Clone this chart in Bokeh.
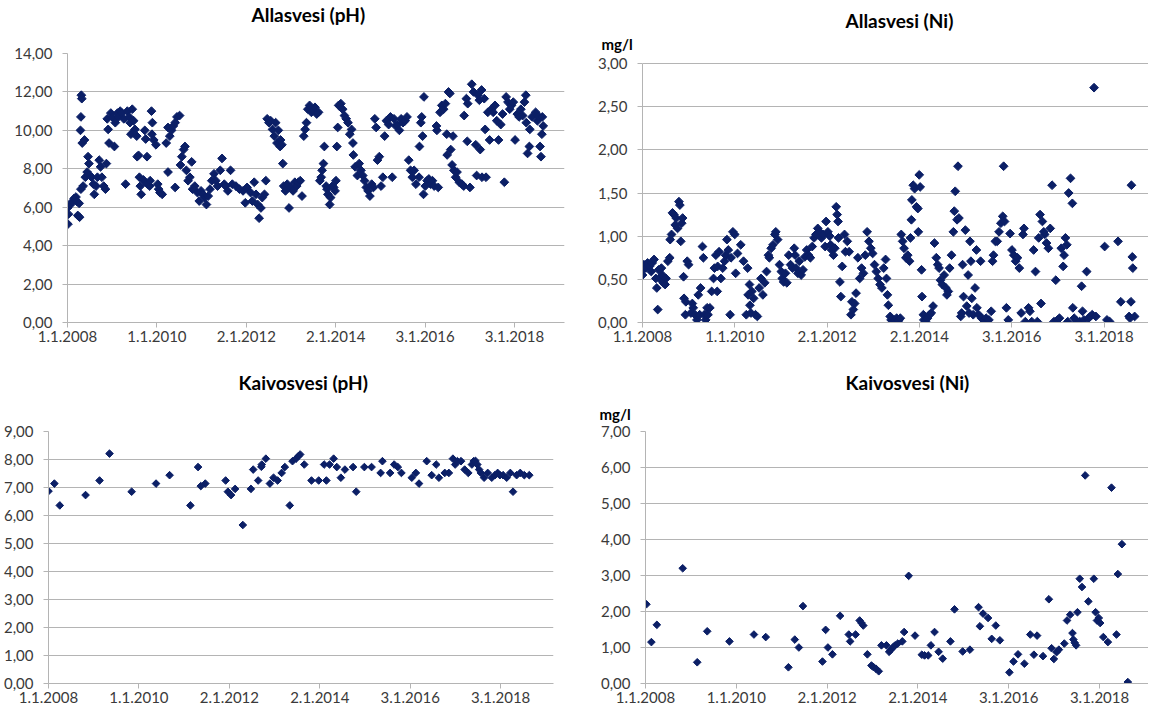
import numpy as np
import pandas as pd
from bokeh.plotting import figure
from bokeh.layouts import column, row
from bokeh.models import FixedTicker, CustomJSTickFormatter, Range1d, Title
from bokeh.embed import file_html
from bokeh.resources import INLINE

# ---------------- axis tick dates / labels ----------------
tick_dates = ["2008-01-01", "2010-01-01", "2012-01-02", "2014-01-02", "2016-01-03", "2018-01-03"]
tick_labels = ["1.1.2008", "1.1.2010", "2.1.2012", "2.1.2014", "3.1.2016", "3.1.2018"]

# ---------------- Allasvesi (pH) : sampling time (decimal year) and value ----------------
allas_ph_t = [
    2008.00, 2008.02, 2008.01, 2008.07, 2008.11, 2008.15, 2008.19, 2008.21, 2008.23, 2008.27,
    2008.26, 2008.30, 2008.31, 2008.32, 2008.30, 2008.29, 2008.33, 2008.38, 2008.35, 2008.40,
    2008.44, 2008.46, 2008.48, 2008.50, 2008.54, 2008.58, 2008.60, 2008.64, 2008.67, 2008.71,
    2008.74, 2008.77, 2008.81, 2008.85, 2008.87, 2008.89, 2008.91, 2008.93, 2008.97, 2009.01,
    2009.05, 2009.07, 2009.12, 2009.14, 2009.18, 2009.22, 2009.26, 2009.30, 2009.34, 2009.38,
    2009.40, 2009.42, 2009.45, 2009.48, 2009.51, 2009.55, 2009.56, 2009.59, 2009.61, 2009.63,
    2009.65, 2009.70, 2009.73, 2009.75, 2009.78, 2009.79, 2009.84, 2009.85, 2009.88, 2009.89,
    2009.90, 2009.93, 2009.98, 2010.02, 2010.04, 2010.07, 2010.12, 2010.25, 2010.21, 2010.25,
    2010.29, 2010.33, 2010.37, 2010.41, 2010.45, 2010.51, 2010.41, 2010.53, 2010.56, 2010.60,
    2010.63, 2010.66, 2010.70, 2010.74, 2010.78, 2010.80, 2010.85, 2010.91, 2010.95, 2010.99,
    2011.03, 2011.07, 2011.11, 2011.15, 2011.19, 2011.23, 2011.28, 2011.32, 2011.36, 2011.42,
    2011.46, 2011.51, 2011.54, 2011.59, 2011.65, 2011.69, 2011.77, 2011.85, 2011.93, 2011.98,
    2012.02, 2012.10, 2012.14, 2012.18, 2012.22, 2012.26, 2012.29, 2012.33, 2012.36, 2012.41,
    2012.44, 2012.47, 2012.51, 2012.55, 2012.59, 2012.63, 2012.66, 2012.69, 2012.72, 2012.76,
    2012.77, 2012.80, 2012.82, 2012.84, 2012.88, 2012.92, 2012.96, 2013.00, 2013.05, 2013.09,
    2013.13, 2013.17, 2013.21, 2013.25, 2013.29, 2013.32, 2013.35, 2013.38, 2013.42, 2013.46,
    2013.50, 2013.54, 2013.58, 2013.62, 2013.65, 2013.68, 2013.70, 2013.73, 2013.75, 2013.79,
    2013.81, 2013.83, 2013.87, 2013.89, 2013.93, 2013.96, 2013.99, 2014.01, 2014.03, 2014.05,
    2014.07, 2014.12, 2014.16, 2014.20, 2014.24, 2014.28, 2014.32, 2014.36, 2014.39, 2014.40,
    2014.44, 2014.49, 2014.53, 2014.57, 2014.61, 2014.65, 2014.69, 2014.73, 2014.77, 2014.81,
    2014.85, 2014.88, 2014.91, 2014.94, 2014.98, 2015.02, 2015.06, 2015.10, 2015.14, 2015.19,
    2015.23, 2015.27, 2015.31, 2015.35, 2015.39, 2015.43, 2015.47, 2015.51, 2015.56, 2015.60,
    2015.64, 2015.68, 2015.72, 2015.76, 2015.80, 2015.87, 2015.88, 2015.91, 2015.93, 2015.95,
    2015.98, 2015.97, 2016.01, 2016.05, 2016.09, 2016.13, 2016.17, 2016.21, 2016.26, 2016.27,
    2016.30, 2016.34, 2016.38, 2016.42, 2016.46, 2016.49, 2016.50, 2016.53, 2016.56, 2016.58,
    2016.61, 2016.63, 2016.65, 2016.69, 2016.72, 2016.77, 2016.83, 2016.87, 2016.88, 2016.93,
    2016.95, 2016.96, 2017.01, 2017.05, 2017.09, 2017.14, 2017.16, 2017.19, 2017.22, 2017.24,
    2017.27, 2017.28, 2017.33, 2017.35, 2017.37, 2017.41, 2017.45, 2017.49, 2017.53, 2017.57,
    2017.61, 2017.65, 2017.70, 2017.74, 2017.78, 2017.82, 2017.86, 2017.90, 2017.94, 2017.98,
    2018.02, 2018.07, 2018.11, 2018.15, 2018.19, 2018.23, 2018.26, 2018.27, 2018.30, 2018.34,
    2018.35, 2018.40, 2018.48, 2018.52, 2018.56, 2018.58, 2018.60, 2018.62, 2018.63, 2018.65,
]
allas_ph_v = [
    5.96, 5.64, 5.12, 6.14, 6.30, 6.46, 6.53, 6.30, 5.57, 5.48,
    6.20, 6.94, 11.83, 11.65, 10.70, 10.00, 9.34, 9.50, 7.10, 7.56,
    7.83, 8.63, 8.27, 7.65, 7.56, 7.20, 6.67, 7.10, 7.56, 8.45,
    8.10, 7.56, 7.10, 6.94, 8.27, 10.60, 10.05, 9.34, 10.90, 10.68,
    9.16, 10.40, 10.90, 10.70, 11.00, 10.90, 10.60, 7.20, 11.00, 10.70,
    10.40, 9.80, 11.10, 10.50, 10.05, 9.70, 8.63, 8.70, 7.56, 7.10,
    6.67, 7.42, 10.00, 9.55, 8.63, 7.20, 7.10, 7.38, 11.00, 9.80,
    10.40, 9.50, 9.25, 7.20, 6.94, 6.76, 6.67, 7.83, 9.34, 10.15,
    9.70, 10.00, 10.23, 10.40, 10.70, 10.77, 7.03, 8.20, 8.63, 9.00,
    9.16, 7.92, 7.38, 7.56, 8.36, 6.94, 7.10, 6.76, 6.32, 6.85,
    6.67, 6.50, 6.14, 6.58, 6.94, 7.38, 7.74, 7.38, 7.10, 7.92,
    8.54, 7.20, 7.10, 6.85, 7.92, 7.20, 7.10, 6.94, 6.85, 6.23,
    7.03, 6.76, 6.32, 7.30, 6.67, 6.14, 5.43, 5.96, 6.50, 6.67,
    7.38, 10.60, 10.40, 10.50, 10.05, 9.70, 10.40, 9.34, 10.00, 9.16,
    9.50, 9.25, 8.27, 7.10, 6.85, 7.20, 5.96, 7.03, 6.85, 7.30,
    7.10, 7.30, 7.38, 6.58, 9.70, 10.05, 10.40, 11.10, 11.30, 10.94,
    11.03, 11.20, 10.85, 10.94, 7.38, 7.56, 7.92, 8.27, 9.16, 7.10,
    6.94, 6.67, 6.14, 6.50, 7.10, 7.03, 6.85, 7.38, 9.16, 10.15,
    11.30, 11.39, 11.10, 10.77, 10.60, 10.40, 9.80, 10.05, 9.34, 8.72,
    8.10, 7.65, 8.27, 7.92, 7.65, 7.38, 7.03, 6.85, 6.58, 7.20,
    7.03, 10.60, 10.15, 8.45, 8.63, 7.10, 7.56, 9.70, 10.50, 10.30,
    10.70, 7.56, 10.60, 10.23, 10.30, 10.00, 10.60, 10.40, 10.50, 10.70,
    8.45, 7.92, 7.56, 7.92, 7.20, 7.56, 9.16, 10.40, 10.70, 9.70,
    11.74, 6.67, 7.10, 7.38, 7.47, 7.20, 7.38, 7.10, 10.23, 10.00,
    7.03, 10.94, 11.30, 11.10, 11.39, 9.80, 8.72, 12.00, 11.92, 9.00,
    8.20, 9.70, 7.92, 7.56, 7.83, 7.30, 7.20, 7.10, 10.77, 11.65,
    9.43, 11.39, 7.03, 12.40, 12.00, 9.25, 7.65, 11.83, 11.57, 9.00,
    12.10, 7.56, 11.65, 10.05, 7.56, 10.94, 9.50, 11.10, 10.94, 11.30,
    10.50, 9.50, 10.30, 10.85, 7.30, 11.74, 11.47, 11.10, 11.30, 11.47,
    9.50, 10.85, 10.70, 11.10, 10.77, 11.47, 11.83, 10.40, 8.80, 9.16,
    10.05, 10.70, 10.94, 10.50, 10.70, 9.16, 8.63, 9.80, 10.70, 10.23,
]

# ---------------- Allasvesi (Ni), mg/l ----------------
allas_ni_t = [
    2008.00, 2008.00, 2008.03, 2008.07, 2008.11, 2008.15, 2008.19, 2008.21, 2008.25, 2008.29,
    2008.31, 2008.33, 2008.35, 2008.37, 2008.41, 2008.43, 2008.45, 2008.49, 2008.51, 2008.55,
    2008.59, 2008.60, 2008.63, 2008.65, 2008.68, 2008.71, 2008.73, 2008.76, 2008.79, 2008.81,
    2008.83, 2008.85, 2008.87, 2008.89, 2008.90, 2008.93, 2008.94, 2008.97, 2009.00, 2009.05,
    2009.08, 2009.10, 2009.14, 2009.18, 2009.21, 2009.24, 2009.26, 2009.30, 2009.32, 2009.34,
    2009.37, 2009.40, 2009.42, 2009.46, 2009.50, 2009.54, 2009.56, 2009.59, 2009.62, 2009.63,
    2009.66, 2009.70, 2009.74, 2009.78, 2009.80, 2009.83, 2009.86, 2009.90, 2009.92, 2009.96,
    2010.00, 2010.02, 2010.06, 2010.13, 2010.19, 2010.25, 2010.28, 2010.29, 2010.32, 2010.33,
    2010.35, 2010.37, 2010.41, 2010.45, 2010.49, 2010.53, 2010.57, 2010.61, 2010.65, 2010.69,
    2010.73, 2010.75, 2010.79, 2010.83, 2010.87, 2010.89, 2010.93, 2010.97, 2011.01, 2011.03,
    2011.06, 2011.10, 2011.13, 2011.17, 2011.21, 2011.25, 2011.29, 2011.31, 2011.33, 2011.37,
    2011.40, 2011.44, 2011.48, 2011.52, 2011.56, 2011.60, 2011.64, 2011.68, 2011.72, 2011.76,
    2011.80, 2011.84, 2011.88, 2011.92, 2011.96, 2011.98, 2012.02, 2012.06, 2012.08, 2012.10,
    2012.14, 2012.17, 2012.20, 2012.22, 2012.24, 2012.25, 2012.28, 2012.30, 2012.33, 2012.38,
    2012.40, 2012.44, 2012.48, 2012.52, 2012.54, 2012.57, 2012.60, 2012.63, 2012.67, 2012.71,
    2012.75, 2012.79, 2012.83, 2012.87, 2012.91, 2012.95, 2012.99, 2013.03, 2013.07, 2013.11,
    2013.15, 2013.19, 2013.23, 2013.27, 2013.29, 2013.31, 2013.33, 2013.37, 2013.39, 2013.43,
    2013.47, 2013.51, 2013.55, 2013.59, 2013.61, 2013.64, 2013.67, 2013.71, 2013.75, 2013.79,
    2013.81, 2013.83, 2013.84, 2013.87, 2013.90, 2013.94, 2013.97, 2013.98, 2014.00, 2014.02,
    2014.05, 2014.06, 2014.09, 2014.10, 2014.14, 2014.18, 2014.22, 2014.26, 2014.30, 2014.33,
    2014.37, 2014.40, 2014.43, 2014.46, 2014.50, 2014.54, 2014.58, 2014.60, 2014.63, 2014.66,
    2014.70, 2014.74, 2014.76, 2014.78, 2014.82, 2014.84, 2014.86, 2014.90, 2014.92, 2014.94,
    2014.96, 2015.00, 2015.03, 2015.06, 2015.08, 2015.10, 2015.12, 2015.14, 2015.17, 2015.21,
    2015.24, 2015.25, 2015.29, 2015.33, 2015.35, 2015.40, 2015.45, 2015.51, 2015.56, 2015.59,
    2015.61, 2015.65, 2015.69, 2015.73, 2015.77, 2015.81, 2015.83, 2015.85, 2015.89, 2015.93,
    2015.97, 2016.01, 2016.05, 2016.09, 2016.13, 2016.17, 2016.21, 2016.25, 2016.27, 2016.30,
    2016.37, 2016.40, 2016.44, 2016.48, 2016.52, 2016.56, 2016.59, 2016.62, 2016.64, 2016.67,
    2016.70, 2016.72, 2016.76, 2016.80, 2016.84, 2016.88, 2016.92, 2016.96, 2017.00, 2017.04,
    2017.08, 2017.12, 2017.14, 2017.17, 2017.20, 2017.22, 2017.24, 2017.28, 2017.32, 2017.33,
    2017.36, 2017.41, 2017.48, 2017.52, 2017.54, 2017.57, 2017.63, 2017.67, 2017.71, 2017.75,
    2017.79, 2017.83, 2018.02, 2018.07, 2018.13, 2018.31, 2018.37, 2018.55, 2018.57, 2018.59,
    2018.60, 2018.62, 2018.63, 2018.67,
]
allas_ni_v = [
    0.55, 0.61, 0.67, 0.63, 0.69, 0.65, 0.59, 0.69, 0.73, 0.51,
    0.40, 0.15, 0.61, 0.51, 0.63, 0.55, 0.46, 0.44, 0.51, 0.71,
    0.75, 0.96, 1.02, 1.27, 1.25, 1.13, 1.21, 1.09, 1.40, 1.36,
    0.94, 1.15, 1.21, 0.53, 0.28, 0.09, 0.24, 0.71, 0.67, 0.11,
    0.22, 0.17, 0.09, 0.03, 0.32, 0.09, 0.40, 0.88, 0.75, 0.09,
    0.03, 0.17, 0.09, 0.17, 0.36, 0.51, 0.63, 0.78, 0.36, 0.65,
    0.82, 0.51, 0.63, 0.71, 0.78, 0.96, 0.84, 0.09, 0.75, 1.05,
    1.02, 0.57, 0.80, 0.90, 0.71, 0.09, 0.63, 0.32, 0.44, 0.20,
    0.11, 0.36, 0.28, 0.09, 0.07, 0.40, 0.51, 0.32, 0.46, 0.59,
    0.78, 0.75, 0.86, 0.90, 1.02, 1.05, 0.96, 0.67, 0.59, 0.51,
    0.47, 0.57, 0.46, 0.78, 0.67, 0.63, 0.86, 0.78, 0.63, 0.57,
    0.71, 0.55, 0.61, 0.76, 0.84, 0.78, 0.75, 0.88, 0.98, 1.02,
    1.09, 1.05, 0.98, 1.02, 0.88, 1.17, 1.05, 1.00, 0.90, 0.84,
    0.78, 0.86, 1.34, 1.25, 1.17, 0.98, 0.47, 0.30, 0.65, 1.02,
    0.82, 0.94, 0.82, 0.09, 0.24, 0.15, 0.22, 0.34, 0.75, 0.51,
    0.63, 0.57, 0.78, 1.05, 0.94, 0.86, 0.80, 0.67, 0.59, 0.51,
    0.44, 0.40, 0.63, 0.73, 0.51, 0.32, 0.20, 0.07, 0.03, 0.02,
    0.03, 0.05, 0.02, 0.05, 1.02, 0.94, 0.86, 0.75, 0.78, 0.71,
    0.98, 1.19, 1.42, 1.59, 1.55, 1.34, 1.32, 1.05, 1.71, 1.57,
    0.61, 0.30, 0.09, 0.03, 0.01, 0.05, 0.09, 0.11, 0.19, 0.92,
    0.75, 0.67, 0.63, 0.49, 0.44, 0.55, 0.40, 0.32, 0.36, 0.63,
    0.78, 1.05, 1.29, 1.52, 1.19, 1.81, 1.21, 0.07, 0.11, 0.67,
    0.30, 1.07, 0.19, 0.55, 0.11, 0.94, 0.71, 0.28, 0.09, 0.40,
    0.84, 0.17, 0.09, 0.71, 0.05, 0.03, 0.05, 0.03, 0.13, 0.71,
    0.78, 0.94, 0.94, 1.05, 1.15, 1.23, 1.81, 1.17, 0.17, 0.03,
    1.03, 0.84, 0.78, 0.71, 0.75, 0.63, 0.11, 1.02, 1.09, 0.01,
    0.17, 0.13, 0.01, 0.84, 0.59, 0.01, 0.98, 1.25, 0.22, 1.17,
    1.05, 1.02, 0.92, 0.86, 1.09, 1.59, 0.01, 0.49, 0.03, 0.05,
    0.86, 0.65, 0.78, 0.98, 0.90, 0.01, 1.50, 1.67, 1.38, 0.17,
    0.05, 0.02, 0.01, 0.42, 0.13, 0.03, 0.59, 0.05, 0.07, 0.09,
    2.72, 0.07, 0.88, 0.03, 0.01, 0.94, 0.24, 0.07, 0.05, 0.24,
    1.59, 0.76, 0.63, 0.07,
]

# ---------------- Kaivosvesi (pH) ----------------
kaivos_ph_t = [
    2008.00, 2008.13, 2008.25, 2008.82, 2009.13, 2009.35, 2009.84, 2010.38, 2010.68, 2011.14,
    2011.31, 2011.37, 2011.47, 2011.92, 2011.97, 2012.04, 2012.13, 2012.30, 2012.48, 2012.53,
    2012.64, 2012.71, 2012.72, 2012.81, 2012.90, 2012.98, 2013.07, 2013.16, 2013.23, 2013.34,
    2013.40, 2013.48, 2013.53, 2013.57, 2013.66, 2013.82, 2013.98, 2014.10, 2014.15, 2014.22,
    2014.31, 2014.38, 2014.47, 2014.56, 2014.74, 2014.81, 2014.99, 2015.15, 2015.35, 2015.39,
    2015.56, 2015.65, 2015.73, 2015.81, 2016.04, 2016.13, 2016.20, 2016.37, 2016.48, 2016.58,
    2016.64, 2016.77, 2016.86, 2016.95, 2017.00, 2017.05, 2017.13, 2017.21, 2017.29, 2017.37,
    2017.41, 2017.45, 2017.49, 2017.53, 2017.57, 2017.64, 2017.72, 2017.81, 2017.88, 2017.94,
    2017.99, 2018.06, 2018.14, 2018.22, 2018.28, 2018.36, 2018.44, 2018.53, 2018.64,
]
kaivos_ph_v = [
    6.87, 7.14, 6.36, 6.73, 7.25, 8.21, 6.85, 7.14, 7.44, 6.36,
    7.73, 7.05, 7.14, 7.25, 6.85, 6.73, 6.95, 5.66, 6.95, 7.64,
    7.25, 7.74, 7.82, 8.03, 7.14, 7.35, 7.25, 7.52, 7.73, 6.36,
    7.94, 8.03, 8.12, 8.18, 7.82, 7.25, 7.25, 7.82, 7.25, 7.82,
    8.03, 7.73, 7.35, 7.64, 7.73, 6.85, 7.73, 7.73, 7.52, 7.94,
    7.52, 7.82, 7.73, 7.52, 7.35, 7.52, 7.14, 7.94, 7.44, 7.82,
    7.35, 7.52, 7.52, 8.03, 7.82, 7.94, 7.94, 7.64, 7.52, 7.82,
    7.94, 7.95, 7.82, 7.64, 7.52, 7.35, 7.52, 7.35, 7.44, 7.52,
    7.44, 7.44, 7.35, 7.52, 6.85, 7.44, 7.52, 7.44, 7.44,
]

# ---------------- Kaivosvesi (Ni), mg/l ----------------
kaivos_ni_t = [
    2008.02, 2008.13, 2008.25, 2008.82, 2009.14, 2009.36, 2009.85, 2010.39, 2010.65, 2011.15,
    2011.29, 2011.38, 2011.47, 2011.90, 2011.97, 2012.02, 2012.12, 2012.29, 2012.48, 2012.51,
    2012.63, 2012.72, 2012.76, 2012.80, 2012.89, 2012.98, 2013.02, 2013.08, 2013.14, 2013.20,
    2013.31, 2013.37, 2013.41, 2013.46, 2013.50, 2013.56, 2013.66, 2013.70, 2013.80, 2013.94,
    2014.09, 2014.15, 2014.23, 2014.29, 2014.37, 2014.46, 2014.55, 2014.72, 2014.81, 2014.99,
    2015.15, 2015.34, 2015.37, 2015.44, 2015.55, 2015.63, 2015.72, 2015.81, 2016.02, 2016.11,
    2016.21, 2016.35, 2016.48, 2016.56, 2016.63, 2016.76, 2016.89, 2016.95, 2017.00, 2017.06,
    2017.11, 2017.23, 2017.29, 2017.36, 2017.41, 2017.43, 2017.46, 2017.49, 2017.52, 2017.57,
    2017.62, 2017.69, 2017.76, 2017.88, 2017.92, 2017.95, 2017.99, 2018.02, 2018.09, 2018.19,
    2018.27, 2018.38, 2018.41, 2018.50, 2018.63,
]
kaivos_ni_v = [
    2.20, 1.15, 1.63, 3.20, 0.59, 1.45, 1.17, 1.36, 1.29, 0.45,
    1.22, 1.00, 2.15, 0.61, 1.49, 1.00, 0.81, 1.88, 1.36, 1.17,
    1.36, 1.75, 1.68, 1.61, 0.81, 0.50, 0.46, 0.41, 0.34, 1.06,
    1.06, 0.88, 0.94, 1.01, 1.06, 1.11, 1.17, 1.43, 2.99, 1.33,
    0.80, 0.78, 0.78, 1.06, 1.43, 0.88, 0.69, 1.17, 2.06, 0.89,
    0.94, 2.12, 1.59, 1.94, 1.82, 1.24, 1.61, 1.20, 0.31, 0.61,
    0.81, 0.55, 1.36, 0.80, 1.33, 0.76, 2.34, 0.98, 0.68, 0.87,
    0.94, 1.11, 1.75, 1.91, 1.40, 1.22, 1.13, 1.06, 1.98, 2.91,
    2.68, 5.78, 2.28, 2.91, 1.98, 1.75, 1.82, 1.68, 1.29, 1.15,
    5.44, 1.36, 3.04, 3.87, 0.04,
]

# ---------------- styling ----------------
MARK = "#0B1F66"
GRID = "#B4B4B4"
LABEL = "#3A3A3A"
FONT = "Lato"

origin = pd.Timestamp("2008-01-01")
tick_days = [float((pd.Timestamp(d) - origin).days) for d in tick_dates]


def to_days(years):
    return [(y - 2008.0) * 365.25 for y in years]


def panel(t, v, ymax, ystep, ytop, xend, width, height, mbl, mbr, mbt, mbb, msize):
    p = figure(width=width, height=height, output_backend="svg", toolbar_location=None,
               x_range=Range1d(0, xend), y_range=Range1d(0, ytop),
               min_border_left=mbl, min_border_right=mbr,
               min_border_top=mbt, min_border_bottom=mbb, title=None)
    p.outline_line_color = None
    p.background_fill_color = "white"
    p.border_fill_color = "white"

    yt = [round(i * ystep, 4) for i in range(int(round(ymax / ystep)) + 1)]
    p.xaxis.ticker = FixedTicker(ticks=tick_days)
    p.xaxis.formatter = CustomJSTickFormatter(
        args=dict(tdays=tick_days, tlabels=tick_labels),
        code="""
        for (let i = 0; i < tdays.length; i++) {
            if (Math.abs(tdays[i] - tick) < 0.5) return tlabels[i];
        }
        return '';
        """)
    p.yaxis.ticker = FixedTicker(ticks=yt)
    p.yaxis.bounds = (0, ymax)
    p.yaxis.formatter = CustomJSTickFormatter(code="return tick.toFixed(2).replace('.', ',');")
    for ax in (p.xaxis, p.yaxis):
        ax.axis_line_color = GRID
        ax.major_tick_line_color = GRID
        ax.major_tick_out = 5
        ax.major_tick_in = 0
        ax.minor_tick_line_color = None
        ax.major_label_text_font = FONT
        ax.major_label_text_font_size = "15px"
        ax.major_label_text_color = LABEL
    p.xaxis.major_label_standoff = 3
    p.yaxis.major_label_standoff = 10
    p.xgrid.visible = False
    p.ygrid.ticker = FixedTicker(ticks=yt)
    p.ygrid.grid_line_color = GRID
    p.ygrid.grid_line_width = 1

    p.scatter(to_days(t), v, marker="square", size=msize, angle=np.pi / 4,
              fill_color=MARK, line_color=MARK)
    return p


def add_title(p, text, standoff, size="19px", offset=0):
    # titles stack outward from the plot frame in the order they are added
    p.add_layout(Title(text=text, align="left", offset=offset, standoff=standoff,
                       text_font=FONT, text_font_size=size, text_font_style="bold",
                       text_color="#000000"), "above")


def add_spacer(p, standoff):
    # blank (white, 1px) title used only to push the real title upward
    p.add_layout(Title(text="\u00a0", standoff=standoff, text_font=FONT,
                       text_font_size="1px", text_color="#ffffff"), "above")


# row 1 (frames share top 53 / bottom 322)
p1 = panel(allas_ph_t, allas_ph_v, 14, 2, 14, 4064, 574, 358, 67, 10, 53, 36, 6.2)
p2 = panel(allas_ni_t, allas_ni_v, 3, 0.5, 3 * 269 / 259, 4007, 574, 358, 68, 0, 53, 36, 6.2)
# row 2 (frames share top 431 / bottom 683)
p3 = panel(kaivos_ph_t, kaivos_ph_v, 9, 1, 9, 4082, 574, 356, 46, 21, 73, 31, 5.4)
p4 = panel(kaivos_ni_t, kaivos_ni_v, 7, 1, 7, 4049, 574, 356, 71, 0, 73, 31, 5.4)

# titles / unit labels
add_spacer(p1, 25)
add_title(p1, "Allasvesi (pH)", 0, offset=184)

add_title(p2, "mg/l", 2, size="15px", offset=-41)
add_title(p2, "Allasvesi (Ni)", 0, offset=203)

add_spacer(p3, 35)
add_title(p3, "Kaivosvesi (pH)", 0, offset=190)

add_title(p4, "mg/l", 18, size="15px", offset=-46)
add_title(p4, "Kaivosvesi (Ni)", 0, offset=200)

layout = column(row(p1, p2), row(p3, p4))
open("out.html", "w").write(file_html(layout, INLINE))
